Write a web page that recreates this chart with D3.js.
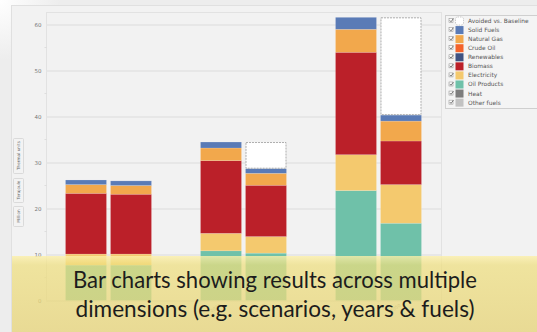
<!DOCTYPE html>
<html>
<head>
<meta charset="utf-8">
<script src="https://cdn.jsdelivr.net/npm/d3@7/dist/d3.min.js"></script>
<style>
  html, body { margin: 0; padding: 0; background: #ededed; }
  svg { display: block; }
</style>
</head>
<body>
<svg id="chart" width="537" height="332"></svg>
<script>
// ---- data -------------------------------------------------------------
const years = ["2015", "2030", "2050"];
const scenarios = ["Base", "Policy"];
const barLabels = ["2015", "2015", "2030", "2030", "2050", "2050"];

// values per bar, ordered year by year: [Base, Policy] for each year
const otherFuels  = [0, 0, 0, 0, 0, 0];
const heat        = [0, 0, 0, 0, 0, 0];
const oilProducts = [7.7, 7.7, 10.8, 10.3, 23.9, 16.8];
const electricity = [2.4, 2.4, 3.8, 3.6, 7.8, 8.4];
const biomass     = [13.2, 13.0, 15.8, 11.15, 22.26, 9.47];
const renewables  = [0, 0, 0, 0, 0, 0];
const crudeOil    = [0, 0, 0, 0, 0, 0];
const naturalGas  = [1.9, 1.9, 2.75, 2.6, 5.0, 4.33];
const solidFuels  = [1.0, 1.0, 1.3, 1.0, 2.6, 1.3];
const avoided     = [0, 0, 0, 5.8, 0, 21.26];

const yTicks = [0, 10, 20, 30, 40, 50, 60];
const unitButtons = ["Thermal units", "Terajoule", "Million"];
const caption = ["Bar charts showing results across multiple",
                 "dimensions (e.g. scenarios, years & fuels)"];

// series in stacking order (bottom to top)
const seriesNames = ["Other fuels", "Heat", "Oil Products", "Electricity", "Biomass",
                     "Renewables", "Crude Oil", "Natural Gas", "Solid Fuels", "Avoided vs. Baseline"];
const seriesValues = [otherFuels, heat, oilProducts, electricity, biomass,
                      renewables, crudeOil, naturalGas, solidFuels, avoided];
const seriesColors = ["#c2c2c2", "#7d7d7d", "#6fc1a9", "#f4c96e", "#bb2029",
                      "#3f5282", "#f4632b", "#f2a84c", "#5a7bb6", "#ffffff"];

// ---- build table ------------------------------------------------------
const rows = [];
years.forEach((yr, gi) => {
  scenarios.forEach((sc, si) => {
    const idx = gi * scenarios.length + si;
    const row = { year: yr, scenario: sc, label: barLabels[idx] };
    seriesNames.forEach((n, k) => { row[n] = seriesValues[k][idx]; });
    rows.push(row);
  });
});

const svg = d3.select("#chart");
const defs = svg.append("defs");

// ---- page background ------------------------------------------------
const glow = defs.append("radialGradient").attr("id", "glow")
  .attr("cx", "0").attr("cy", "0").attr("r", "1");
glow.append("stop").attr("offset", "0").attr("stop-color", "#ffffff");
glow.append("stop").attr("offset", "1").attr("stop-color", "#ededed");
svg.append("rect").attr("width", 537).attr("height", 332).attr("fill", "#ededed");
svg.append("rect").attr("width", 60).attr("height", 60).attr("fill", "url(#glow)");
svg.append("rect").attr("x", 11.5).attr("y", 5.5).attr("width", 540).attr("height", 340)
  .attr("fill", "#f2f2f2").attr("stroke", "#e0e0e0");

// ---- scales -----------------------------------------------------------
const plot = { left: 46, right: 441, top: 12, bottom: 300.5 };
const x0 = d3.scaleBand().domain(years).range([plot.left, plot.right])
  .paddingInner(0.363).paddingOuter(0.1445);
const x1 = d3.scaleBand().domain(scenarios).range([0, x0.bandwidth()]).paddingInner(0.089);
const y = d3.scaleLinear().domain([0, 60]).range([300.5, 24.5]);

// plot frame
svg.append("rect").attr("x", plot.left + 0.5).attr("y", plot.top + 0.5)
  .attr("width", plot.right - plot.left).attr("height", plot.bottom - plot.top)
  .attr("fill", "#f2f2f2").attr("stroke", "#e2e2e2");

// gridlines + tick labels via axis
const yAxis = d3.axisLeft(y).tickValues(yTicks).tickSize(-(plot.right - plot.left))
  .tickFormat(d3.format("d")).tickPadding(4);
const gy = svg.append("g").attr("transform", `translate(${plot.left},0)`).call(yAxis);
gy.select(".domain").remove();
gy.selectAll(".tick line").attr("stroke", "#e3e3e3").attr("stroke-width", 1.6);
gy.selectAll(".tick text").attr("font-family", "DejaVu Sans").attr("font-size", 5.5)
  .attr("fill", "#777").attr("x", -4.5);

// minor ticks on the value axis
const minor = d3.range(5, 61, 10);
svg.append("g").selectAll("line").data(minor).join("line")
  .attr("x1", plot.left - 1.5).attr("x2", plot.left + 0.5)
  .attr("y1", d => y(d)).attr("y2", d => y(d))
  .attr("stroke", "#d8d8d8").attr("stroke-width", 0.8);

// ---- stacked bars -----------------------------------------------------
const stack = d3.stack().keys(seriesNames);
const layers = stack(rows);
const color = d3.scaleOrdinal().domain(seriesNames).range(seriesColors);

const gBars = svg.append("g");
layers.forEach(layer => {
  const isAvoided = layer.key === "Avoided vs. Baseline";
  gBars.append("g").selectAll("rect")
    .data(layer.filter(d => d[1] - d[0] > 0))
    .join("rect")
    .attr("x", d => x0(d.data.year) + x1(d.data.scenario) + (isAvoided ? 0.5 : 0))
    .attr("y", d => y(d[1]) + (isAvoided ? 0.5 : 0))
    .attr("width", x1.bandwidth() - (isAvoided ? 1 : 0))
    .attr("height", d => y(d[0]) - y(d[1]) - (isAvoided ? 1 : 0))
    .attr("fill", color(layer.key))
    .attr("stroke", isAvoided ? "#9a9a9a" : "rgba(255,255,255,0.25)")
    .attr("stroke-width", isAvoided ? 0.8 : 0.6)
    .attr("stroke-dasharray", isAvoided ? "2,1" : null);
});

// bar labels (rotated)
svg.append("g").selectAll("text").data(rows).join("text")
  .attr("transform", d => {
    const cx = x0(d.year) + x1(d.scenario) + x1.bandwidth() / 2;
    return `translate(${cx},306) rotate(-35)`;
  })
  .attr("text-anchor", "end")
  .attr("font-family", "DejaVu Sans").attr("font-size", 4.5).attr("fill", "#999")
  .text(d => d.label);

// ---- unit buttons on the left -------------------------------------------
const btnBoxes = [[138, 173], [178, 202], [206, 226]];
const gBtn = svg.append("g");
unitButtons.forEach((t, i) => {
  const [y0b, y1b] = btnBoxes[i];
  gBtn.append("rect").attr("x", 13.5).attr("y", y0b + 0.5).attr("width", 10).attr("height", y1b - y0b)
    .attr("rx", 1).attr("fill", "#f3f3f3").attr("stroke", "#d3d3d3").attr("stroke-width", 0.8);
  gBtn.append("text")
    .attr("transform", `translate(20.2,${(y0b + y1b) / 2}) rotate(-90)`)
    .attr("text-anchor", "middle")
    .attr("font-family", "DejaVu Sans").attr("font-size", 4.2).attr("fill", "#666")
    .text(t);
});

// ---- legend -------------------------------------------------------------
const legendItems = seriesNames.slice().reverse();
const gLeg = svg.append("g");
gLeg.append("rect").attr("x", 445.5).attr("y", 15.5).attr("width", 100).attr("height", 93)
  .attr("fill", "#f4f4f4").attr("stroke", "#cfcfcf");
legendItems.forEach((n, i) => {
  const cy = 21 + i * 9.07;
  const g = gLeg.append("g");
  // check box
  g.append("rect").attr("x", 449).attr("y", cy - 2.5).attr("width", 4).attr("height", 4)
    .attr("fill", "#fff").attr("stroke", "#888").attr("stroke-width", 0.5);
  g.append("path").attr("d", `M449.8,${cy - 0.6} L451,${cy + 0.8} L453.4,${cy - 2.4}`)
    .attr("fill", "none").attr("stroke", "#444").attr("stroke-width", 0.7);
  // swatch
  const isAvoided = n === "Avoided vs. Baseline";
  g.append("rect").attr("x", 455.5).attr("y", cy - 4).attr("width", 8).attr("height", 8)
    .attr("rx", isAvoided ? 2 : 0)
    .attr("fill", color(n))
    .attr("stroke", isAvoided ? "#aaa" : "none").attr("stroke-width", 0.6)
    .attr("stroke-dasharray", isAvoided ? "1.5,1" : null);
  g.append("text").attr("x", 468).attr("y", cy + 2)
    .attr("font-family", "DejaVu Sans").attr("font-size", 5.9).attr("fill", "#555")
    .text(n);
});

// ---- caption band -------------------------------------------------------
const band = defs.append("linearGradient").attr("id", "band")
  .attr("x1", 0).attr("y1", 0).attr("x2", 0).attr("y2", 1);
band.append("stop").attr("offset", "0").attr("stop-color", "rgb(252,240,170)").attr("stop-opacity", 0.8);
band.append("stop").attr("offset", "0.12").attr("stop-color", "rgb(238,222,125)").attr("stop-opacity", 0.72);
band.append("stop").attr("offset", "1").attr("stop-color", "rgb(230,212,125)").attr("stop-opacity", 0.8);
svg.append("rect").attr("x", 12).attr("y", 256).attr("width", 525).attr("height", 76)
  .attr("fill", "url(#band)");

const capCenter = 275;
svg.append("g").selectAll("text").data(caption).join("text")
  .attr("x", capCenter).attr("y", (d, i) => 288 + i * 29)
  .attr("text-anchor", "middle")
  .attr("font-family", "Lato, 'Open Sans', sans-serif").attr("font-size", 22.5)
  .attr("fill", "#1c1c1c")
  .attr("textLength", (d, i) => i === 0 ? 404 : 399)
  .attr("lengthAdjust", "spacingAndGlyphs")
  .text(d => d);
</script>
</body>
</html>
